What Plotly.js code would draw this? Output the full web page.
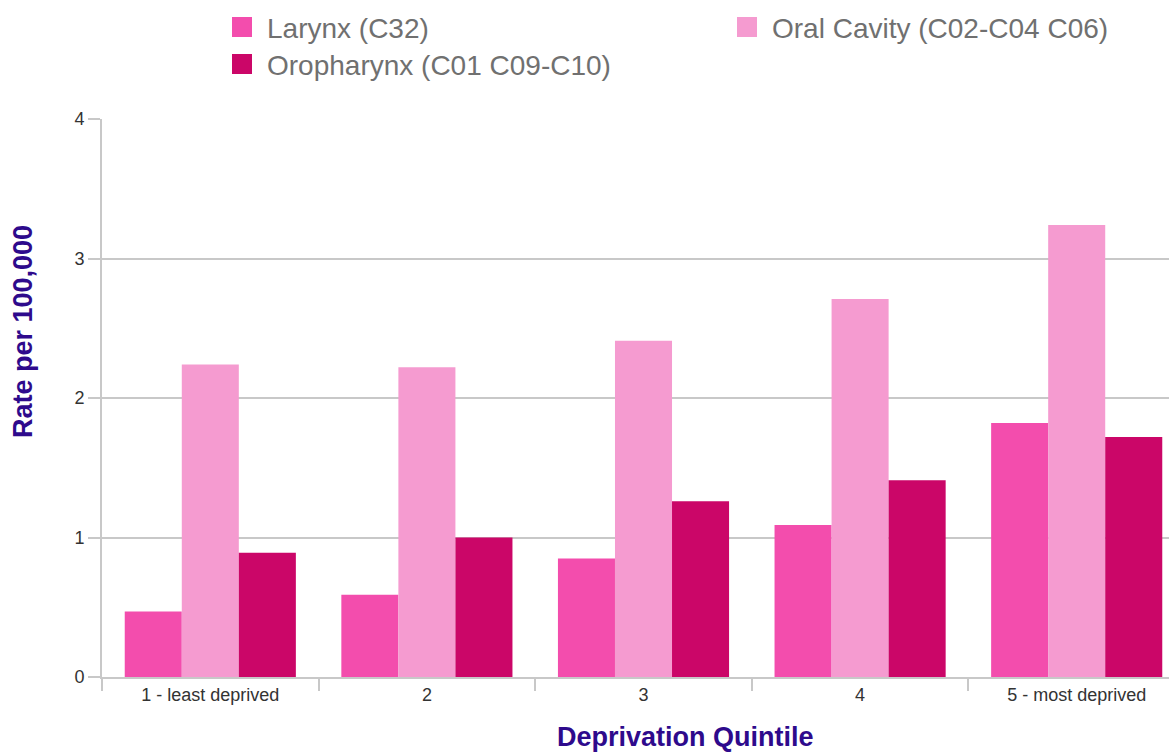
<!DOCTYPE html>
<html>
<head>
<meta charset="utf-8">
<script src="https://cdn.plot.ly/plotly-3.0.1.min.js"></script>
<style>
html,body{margin:0;padding:0;overflow:hidden;background:#fff;}
#chart{width:1200px;height:753px;}
</style>
</head>
<body>
<div id="chart"></div>
<script>
var categories = ["1 - least deprived", "2", "3", "4", "5 - most deprived"];
var seriesNames = ["Larynx (C32)", "Oral Cavity (C02-C04 C06)", "Oropharynx (C01 C09-C10)"];
var larynx = [0.47, 0.59, 0.85, 1.09, 1.82];
var oralCavity = [2.24, 2.22, 2.41, 2.71, 3.24];
var oropharynx = [0.89, 1.00, 1.26, 1.41, 1.72];
var yTicks = [0, 1, 2, 3, 4];

var colors = ["#F34DAD", "#F59BD0", "#CB0668"];
var W = 1200, H = 753, ML = 102, MR = 15, MT = 119, MB = 76;
var PW = W - ML - MR, PH = H - MT - MB;
function px(p){ return (p - ML) / PW; }
function py(p){ return (H - MB - p) / PH; }

var values = [larynx, oralCavity, oropharynx];
var traces = values.map(function(v, i){
  return {
    type: "bar", x: categories, y: v, name: seriesNames[i],
    marker: {color: colors[i]}, hoverinfo: "x+y+name"
  };
});

// custom legend (row-major: two columns)
var legendPos = [[232, 27], [737, 27], [232, 64]];
var shapes = [], annotations = [];
seriesNames.forEach(function(n, i){
  var lx = legendPos[i][0], ly = legendPos[i][1];
  shapes.push({type: "rect", xref: "paper", yref: "paper",
    x0: px(lx), x1: px(lx + 20), y0: py(ly - 10), y1: py(ly + 10),
    fillcolor: colors[i], line: {width: 0}});
  annotations.push({xref: "paper", yref: "paper", x: px(lx + 33), y: py(ly + 1),
    xanchor: "left", yanchor: "middle", showarrow: false, text: n,
    font: {family: "Liberation Sans, Arial, sans-serif", size: 28, color: "#707070"}});
});
annotations.push({xref: "paper", yref: "paper", x: px(685), y: py(737),
  xanchor: "center", yanchor: "middle", showarrow: false, text: "<b>Deprivation Quintile</b>",
  font: {family: "Liberation Sans, Arial, sans-serif", size: 27, color: "#2E0A8C"}});
annotations.push({xref: "paper", yref: "paper", x: px(23), y: py(332),
  xanchor: "center", yanchor: "middle", showarrow: false, textangle: -90,
  text: "<b>Rate per 100,000</b>",
  font: {family: "Liberation Sans, Arial, sans-serif", size: 27, color: "#2E0A8C"}});

var layout = {
  width: W, height: H,
  margin: {l: ML, r: MR, t: MT, b: MB, pad: 0},
  paper_bgcolor: "#fff", plot_bgcolor: "#fff",
  barmode: "group", bargap: 0.21, bargroupgap: 0,
  showlegend: false,
  font: {family: "Liberation Sans, Arial, sans-serif", color: "#333"},
  xaxis: {
    type: "category", tickson: "boundaries", ticks: "outside", ticklen: 12,
    tickcolor: "#c8c8c8", tickwidth: 2, showgrid: false,
    showline: true, linecolor: "#c8c8c8", linewidth: 2,
    tickfont: {size: 18, color: "#333"}, fixedrange: true
  },
  yaxis: {
    range: [0, 4], tickvals: yTicks, ticktext: yTicks.map(String),
    ticks: "outside", ticklen: 12, tickcolor: "#c8c8c8", tickwidth: 2,
    showgrid: true, gridcolor: "#c8c8c8", gridwidth: 2, zeroline: false,
    showline: true, linecolor: "#c8c8c8", linewidth: 2,
    tickfont: {size: 18, color: "#333"}, fixedrange: true
  },
  shapes: shapes,
  annotations: annotations
};

Plotly.newPlot("chart", traces, layout, {displayModeBar: false, staticPlot: true});
</script>
</body>
</html>
